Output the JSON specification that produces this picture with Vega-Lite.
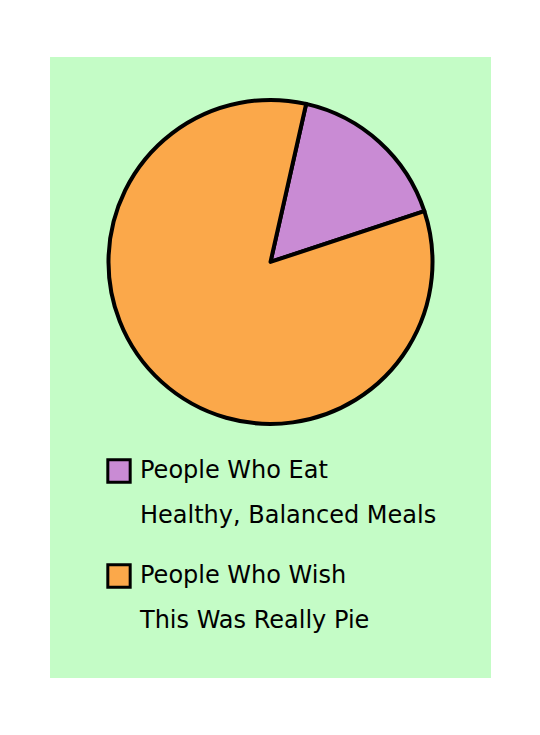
{
  "$schema": "https://vega.github.io/schema/vega-lite/v6.json",
  "width": 441,
  "height": 621,
  "autosize": {"type": "none"},
  "padding": {"left": 50, "top": 57, "right": 49, "bottom": 57},
  "background": "white",
  "view": {"fill": "#c4fcc6", "stroke": null},
  "config": {
    "style": {"guide-label": {"lineHeight": 45}}
  },
  "data": {
    "values": [
      {"group": "People Who Eat|Healthy, Balanced Meals", "share": 16.4},
      {"group": "People Who Wish|This Was Really Pie", "share": 83.6}
    ]
  },
  "mark": {"type": "arc", "outerRadius": 162, "stroke": "black", "strokeWidth": 4, "strokeJoin": "round"},
  "encoding": {
    "theta": {"field": "share", "type": "quantitative", "stack": true, "scale": {"range": [0.222, 6.505]}},
    "color": {
      "field": "group",
      "type": "nominal",
      "scale": {
        "domain": ["People Who Eat|Healthy, Balanced Meals", "People Who Wish|This Was Really Pie"],
        "range": ["#c98bd4", "#fba84a"]
      },
      "legend": {
        "orient": "none",
        "legendX": 56,
        "legendY": 401,
        "title": null,
        "symbolType": "square",
        "symbolSize": 500,
        "symbolStrokeColor": "black",
        "symbolStrokeWidth": 3,
        "symbolOpacity": 1,
        "labelExpr": "split(datum.label, '|')",
        "labelFont": "DejaVu Sans",
        "labelFontSize": 24,
        "labelColor": "black",
        "labelLimit": 0,
        "labelBaseline": "middle",
        "labelOffset": 8,
        "rowPadding": 30
      }
    },
    "x": {"datum": 0.5, "type": "quantitative", "scale": {"domain": [0, 1]}, "axis": null},
    "y": {"datum": 0.33, "type": "quantitative", "scale": {"domain": [0, 1], "reverse": true}, "axis": null}
  }
}
